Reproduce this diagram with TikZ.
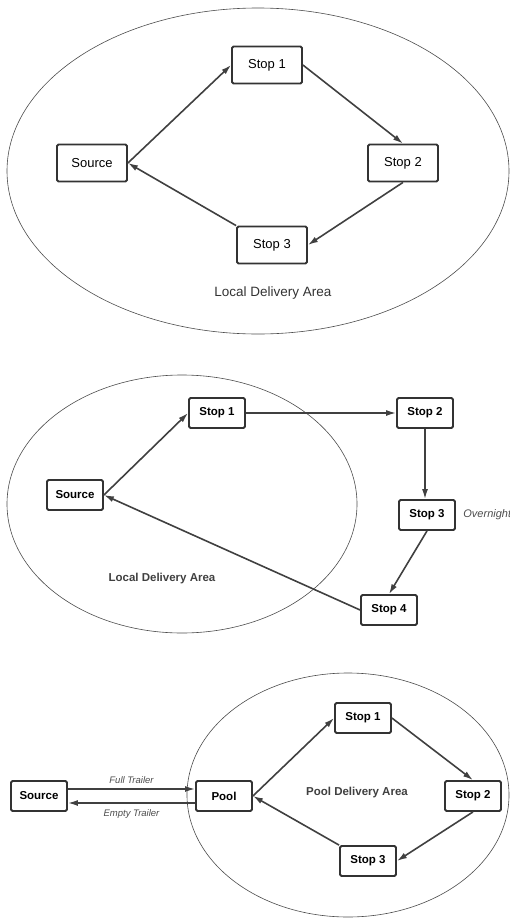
\documentclass[tikz,border=0pt]{standalone}
\usepackage{fontspec}
\setmainfont{Liberation Sans}
\usetikzlibrary{arrows.meta}

\begin{document}
\begin{tikzpicture}[x=1pt,y=-1pt,
    area/.style={draw=black!70,line width=0.6pt},
    bigbox/.style={draw=black!80,line width=1.8pt,rounded corners=1.5pt,
      minimum width=70pt,minimum height=37pt,font=\fontsize{13}{13}\selectfont},
    box/.style={draw=black!80,line width=1.8pt,rounded corners=1.5pt,
      minimum width=56pt,minimum height=30pt,font=\bfseries\fontsize{11.5}{12}\selectfont},
    flow/.style={-{Latex[length=10pt,width=6pt]},line width=1.6pt,draw=black!75},
    note/.style={font=\itshape\fontsize{9.5}{10}\selectfont,text=black!70}]
  \useasboundingbox (0,0) rectangle (510,918);

  % local delivery
  \draw[area] (258,171) ellipse [x radius=251pt, y radius=163pt];
  \node[bigbox] (srcA) at (92,163) {Source};
  \node[bigbox] (aone) at (267,65) {Stop 1};
  \node[bigbox] (atwo) at (403,163) {Stop 2};
  \node[bigbox] (athree) at (272,245) {Stop 3};
  \node[font=\fontsize{13.5}{14}\selectfont,text=black!80] (areaA) at (273,293) {Local Delivery Area};

  \draw[flow] (srcA.east) -- (aone.west);
  \draw[flow] (aone.east) -- (atwo.north);
  \draw[flow] (atwo.south) -- (athree.east);
  \draw[flow] (athree.north west) -- (srcA.east);

  % overnight route
  \draw[area] (182,504) ellipse [x radius=175pt, y radius=129pt];
  \node[box] (srcB) at (75,495) {Source};
  \node[box] (bone) at (217,413) {Stop 1};
  \node[box] (btwo) at (425,413) {Stop 2};
  \node[box] (bthree) at (427,515) {Stop 3};
  \node[box] (bfour) at (389,610) {Stop 4};
  \node[note,font=\itshape\fontsize{11}{12}\selectfont,anchor=west] (ovn) at ([xshift=4pt]bthree.east) {Overnight};
  \node[font=\bfseries\fontsize{11.5}{12}\selectfont,text=black!75] (areaB) at (162,579) {Local Delivery Area};

  \draw[flow] (srcB.east) -- (bone.west);
  \draw[flow] (bone.east) -- (btwo.west);
  \draw[flow] (btwo.south) -- (btwo.south |- bthree.north);
  \draw[flow] (bthree.south) -- (bfour.north);
  \draw[flow] (bfour.west) -- (srcB.east);

  % pool
  \draw[area] (348,795) ellipse [x radius=161pt, y radius=122pt];
  \node[box] (srcC) at (39,796) {Source};
  \node[box] (pool) at (224,796) {Pool};
  \node[box] (cone) at (363,718) {Stop 1};
  \node[box] (ctwo) at (473,796) {Stop 2};
  \node[box] (cthree) at (368,861) {Stop 3};
  \node[font=\bfseries\fontsize{11.5}{12}\selectfont,text=black!75] (areaC) at (357,793) {Pool Delivery Area};

  \draw[flow] ([yshift=7pt]srcC.east) -- node[note,above=1pt] {Full Trailer} ([yshift=7pt]pool.west);
  \draw[flow] ([yshift=-7pt]pool.west) -- node[note,below=2pt] {Empty Trailer} ([yshift=-7pt]srcC.east);
  \draw[flow] (pool.east) -- (cone.west);
  \draw[flow] (cone.east) -- (ctwo.north);
  \draw[flow] (ctwo.south) -- (cthree.east);
  \draw[flow] (cthree.north west) -- (pool.east);
\end{tikzpicture}
\end{document}
